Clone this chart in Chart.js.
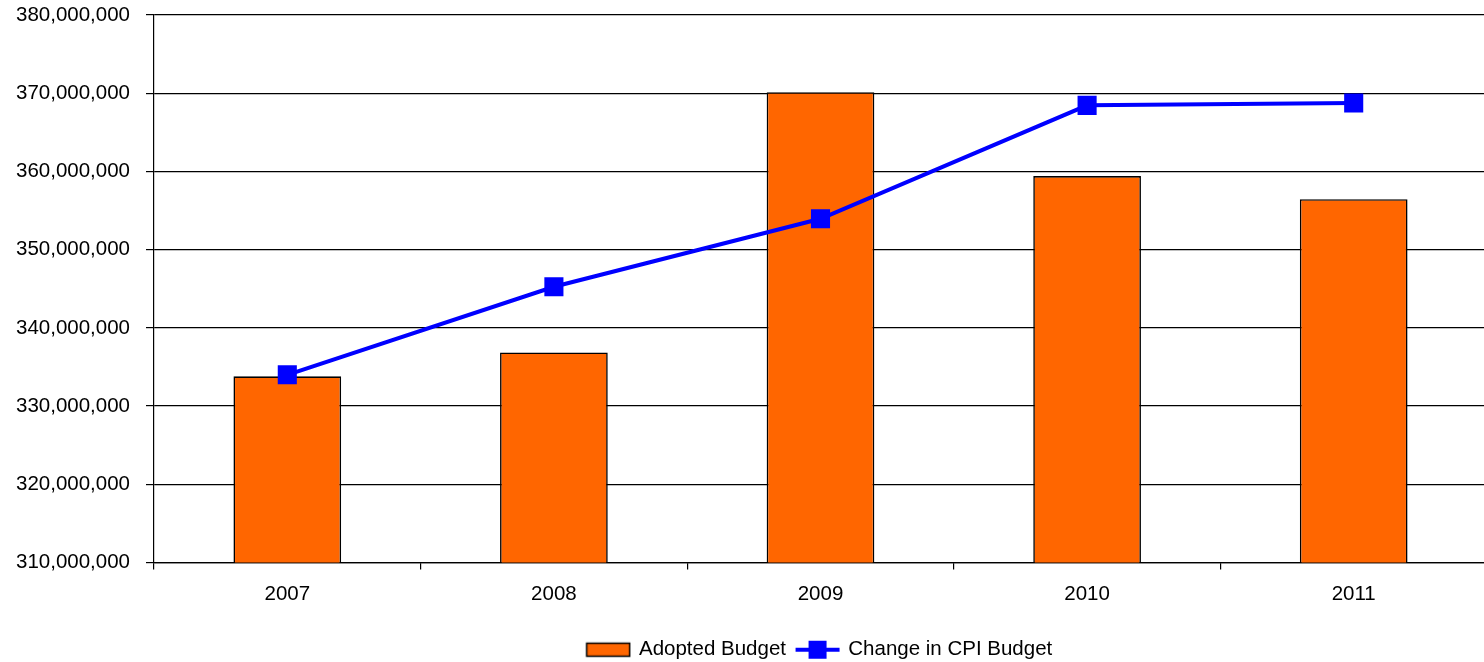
<!DOCTYPE html>
<html>
<head>
<meta charset="utf-8">
<script src="https://cdn.jsdelivr.net/npm/chart.js@4/dist/chart.umd.min.js"></script>
<style>
  html, body { margin: 0; padding: 0; background: #fff; overflow: hidden; }
  #wrap { position: relative; width: 1640px; height: 662px; }
</style>
</head>
<body>
<div id="wrap"><canvas id="chart"></canvas></div>
<script>
'use strict';

const years = ['2007', '2008', '2009', '2010', '2011'];
const adoptedBudget = [333800000, 336850000, 370130000, 359400000, 356450000];
const cpiBudget = [334000000, 345250000, 353950000, 368450000, 368750000];
const yTicks = [310000000, 320000000, 330000000, 340000000, 350000000, 360000000, 370000000, 380000000];

const ORANGE = '#ff6600';
const BLUE = '#0000ff';
const FONT = { family: 'Liberation Sans, Arial, sans-serif', size: 20.5 };

// legend swatches drawn into small canvases so they can be used as point styles
function swatch(draw) {
  const c = document.createElement('canvas');
  c.width = 46; c.height = 20;
  draw(c.getContext('2d'));
  return c;
}
const barSwatch = swatch((g) => {
  g.fillStyle = ORANGE;
  g.fillRect(1.5, 3.5, 43, 13);
  g.strokeStyle = '#000';
  g.lineWidth = 1.5;
  g.strokeRect(1.5, 3.5, 43, 13);
});
const lineSwatch = swatch((g) => {
  g.fillStyle = BLUE;
  g.fillRect(1, 8, 44, 4);
  g.fillRect(14, 1, 18, 18);
});

new Chart(document.getElementById('chart'), {
  data: {
    labels: years,
    datasets: [
      {
        type: 'line',
        label: 'Change in CPI Budget',
        data: cpiBudget,
        borderColor: BLUE,
        backgroundColor: BLUE,
        borderWidth: 4,
        pointStyle: 'rect',
        pointRadius: 13.5,
        pointHoverRadius: 13.5,
        pointBorderWidth: 0,
        tension: 0,
        order: 0,
      },
      {
        type: 'bar',
        label: 'Adopted Budget',
        data: adoptedBudget,
        backgroundColor: ORANGE,
        borderColor: '#000',
        borderWidth: 1.6,
        categoryPercentage: 1,
        barPercentage: 0.404,
        order: 1,
      },
    ],
  },
  options: {
    responsive: true,
    maintainAspectRatio: false,
    animation: false,
    layout: { autoPadding: false, padding: { top: 15, left: 0, right: 0, bottom: -8 } },
    plugins: {
      tooltip: { enabled: false },
      legend: {
        position: 'bottom',
        reverse: true,
        labels: {
          usePointStyle: true,
          pointStyleWidth: 41,
          padding: 11,
          color: '#000',
          font: FONT,
          generateLabels: (chart) => chart.data.datasets.map((ds, i) => ({
            text: ds.label,
            pointStyle: ds.type === 'bar' ? barSwatch : lineSwatch,
            fontColor: '#000',
            lineWidth: 0,
            hidden: false,
            datasetIndex: i,
          })),
        },
      },
    },
    scales: {
      x: {
        offset: true,
        afterFit: (scale) => { scale.height = 66; },
        grid: { offset: true, drawOnChartArea: false, drawTicks: true, tickLength: 7, color: '#000', lineWidth: 1.2 },
        border: { display: true, color: '#000', width: 1.2 },
        ticks: { color: '#000', font: FONT, padding: 13 },
      },
      y: {
        position: 'left',
        min: 310000000,
        max: 380000000,
        afterBuildTicks: (scale) => { scale.ticks = yTicks.map((v) => ({ value: v })); },
        afterFit: (scale) => {
          scale.width = 154;
          scale.paddingTop = 0;
          scale.paddingBottom = 0;
        },
        grid: { color: '#000', lineWidth: 1.2, tickLength: 8 },
        border: { display: true, color: '#000', width: 1.2 },
        ticks: {
          color: '#000',
          font: FONT,
          padding: 16,
          callback: (v) => Number(v).toLocaleString('en-US'),
        },
      },
      // empty right-hand band so the plot stops near the page edge
      pad: {
        position: 'right',
        display: true,
        grid: { display: false },
        border: { display: false },
        ticks: { display: false },
        afterFit: (scale) => { scale.width = 153; },
      },
    },
  },
});
</script>
</body>
</html>
